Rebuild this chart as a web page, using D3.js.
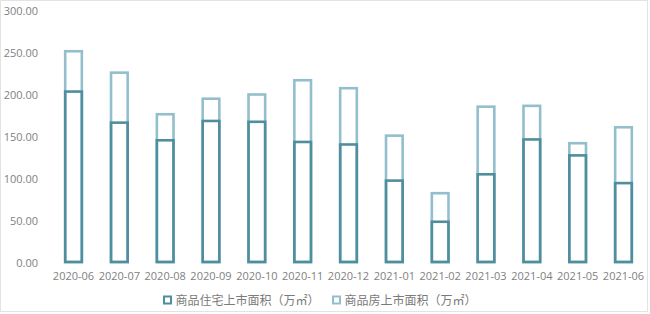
<!DOCTYPE html>
<html><head><meta charset="utf-8">
<script src="https://cdn.jsdelivr.net/npm/d3@7"></script>
<style>body{margin:0;background:#fff;} svg{display:block;}</style>
</head><body>
<svg id="c" width="650" height="314"></svg>
<script>
const categories = ["2020-06","2020-07","2020-08","2020-09","2020-10","2020-11","2020-12","2021-01","2021-02","2021-03","2021-04","2021-05","2021-06"];
const residential = [206,169,148,171,170,146,143,100,51,107.5,149,130,97];
const commercial = [254,228.5,179,197.5,202.5,219.5,210,153.5,85,188,189,144.5,163.5];
const yTicks = [0,50,100,150,200,250,300];
const seriesNames = ["商品住宅上市面积（万㎡）","商品房上市面积（万㎡）"];
const colors = ["#4f8e9d","#93bfcc"];

const svg = d3.select("#c");
const W = 650, H = 314;
svg.append("rect").attr("x",0.5).attr("y",0.5).attr("width",W-3).attr("height",H-3)
  .attr("fill","#fff").attr("stroke","#e3e3e3");

const x = d3.scaleBand().domain(categories).range([50.6, 646.4]).paddingInner(0.58).paddingOuter(0.29);
const y = d3.scaleLinear().domain([0,300]).range([263.3, 11.3]);

const font = "'Open Sans','Noto Sans CJK SC',sans-serif";
const tc = "#7f7f7f";

const yAxis = svg.append("g").attr("transform","translate(42,0)")
  .call(d3.axisLeft(y).tickValues(yTicks).tickFormat(d3.format(".2f")).tickSize(0).tickPadding(4));
yAxis.select(".domain").remove();
yAxis.selectAll("text").attr("fill",tc).style("font-family",font).style("font-size","11px");

const xAxis = svg.append("g").attr("transform","translate(0,272)")
  .call(d3.axisBottom(x).tickSize(0).tickPadding(0));
xAxis.select(".domain").remove();
xAxis.selectAll("text").attr("fill",tc).style("font-family",font).style("font-size","11px").attr("dy","0.71em");

const sw = 2.6;
const bw = x.bandwidth();
// light (total) bars
svg.append("g").selectAll("rect").data(categories).join("rect")
  .attr("x", d => x(d) + sw/2).attr("width", bw - sw)
  .attr("y", (d,i) => y(commercial[i]) + sw/2)
  .attr("height", (d,i) => y(0) - y(commercial[i]) - sw)
  .attr("fill","none").attr("stroke",colors[1]).attr("stroke-width",sw);
// dark (residential) bars
svg.append("g").selectAll("rect").data(categories).join("rect")
  .attr("x", d => x(d) + sw/2).attr("width", bw - sw)
  .attr("y", (d,i) => y(residential[i]) + sw/2)
  .attr("height", (d,i) => y(0) - y(residential[i]) - sw)
  .attr("fill","none").attr("stroke",colors[0]).attr("stroke-width",sw);

// legend
const legX = [163, 332];
const lg = svg.append("g");
seriesNames.forEach((n,i) => {
  lg.append("rect").attr("x",legX[i]+1).attr("y",296.5).attr("width",7).attr("height",7)
    .attr("fill","none").attr("stroke",colors[i]).attr("stroke-width",2);
  lg.append("text").attr("x",legX[i]+12.5).attr("y",305).text(n)
    .attr("fill","#7a7a7a").style("font-family",font).style("font-size","12px");
});
</script>
</body></html>
